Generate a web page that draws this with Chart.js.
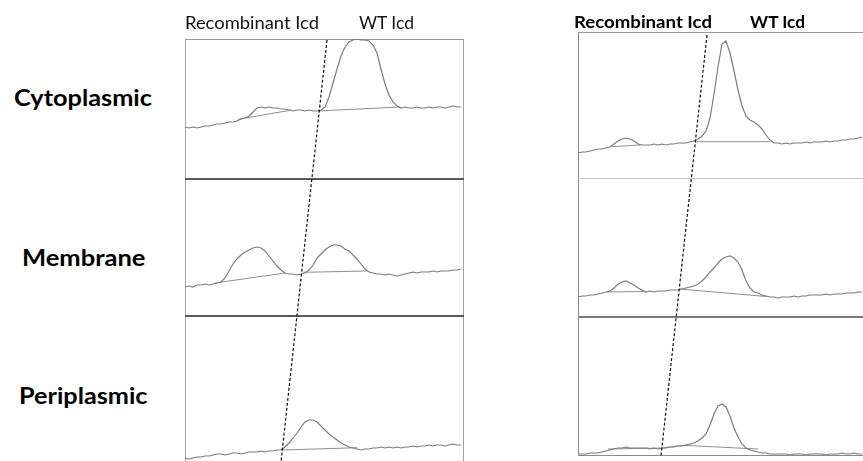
<!DOCTYPE html>
<html><head><meta charset="utf-8">
<script src="https://cdn.jsdelivr.net/npm/chart.js@4/dist/chart.umd.min.js"></script>
<style>
html,body{margin:0;padding:0;background:#fff;width:863px;height:461px;overflow:hidden;position:relative;font-family:Lato,"Noto Sans",sans-serif;}
.lbl{position:absolute;white-space:nowrap;line-height:1;transform-origin:0 0;color:#111;}
.b{font-weight:bold;color:#000;}
.ln{position:absolute;}
canvas{position:absolute;}
</style></head><body>
<div id="root"></div>
<script>
// ---- data (lane densitometry scans, sampled every SAMPLE_STEP px along the lane) ----
const SAMPLE_STEP = 4;
const rowNames = ["Cytoplasmic", "Membrane", "Periplasmic"];
const headerNames = ["Recombinant Icd", "WT Icd"];

const cytoLeft = [52,51,52,51,52,53,53,54,55,55, 56,57,57,58,60,61,63,67,71,72, 71,72,71,71,70,70,69,68,69,69,
  68,69,68,68,69,72,82,96,110,123, 132,137,139,140,139,139,138,134,126,110, 95,84,77,73,71,72,71,71,72,71,
  71,72,71,72,72,71,72,73,72,72];
const membLeft = [29,30,29,31,31,32,31,32,33,34, 38,45,52,57,61,64,66,68,69,68, 65,60,55,50,46,43,42,42,41,42,
  43,46,51,58,62,66,69,71,71,70, 67,65,61,57,52,47,44,43,42,42, 41,42,41,40,41,42,43,44,43,44,
  44,44,45,44,45,45,45,46,46,47];
const periLeft = [4,3,4,5,5,6,6,7,8,8, 7,8,9,9,8,9,10,10,10,11, 10,11,11,12,12,15,19,24,29,35,
  40,42,42,40,36,32,28,25,22,19, 17,15,14,13,12,13,13,14,14,15, 14,15,14,15,14,15,15,16,15,16,
  16,17,16,17,17,16,17,18,17,17];

const cytoRight = [25,26,26,27,28,29,29,30,31,34, 37,39,40,39,37,34,33,33,33,34, 33,34,33,34,34,35,35,35,36,37,
  39,42,47,60,84,111,134,137,125,107, 88,72,62,58,56,53,49,43,38,35, 35,34,35,34,35,35,35,36,35,36,
  36,36,37,36,37,37,38,38,39,39,40,41];
const membRight = [20,21,21,22,22,23,24,25,26,29, 33,35,36,34,32,29,27,25,26,25, 26,26,26,27,27,27,28,29,30,31,
  33,36,40,45,49,54,58,60,61,59, 55,47,36,29,25,24,22,21,20,20, 19,20,20,20,21,20,21,21,22,22,
  22,22,23,22,23,23,23,24,24,24,25,25];
const periRight = [2,2,2,3,3,3,4,5,6,7, 8,8,9,8,8,8,8,8,7,8, 7,8,8,9,9,10,10,11,12,13,
  15,18,22,31,42,50,52,49,40,28, 19,12,8,6,5,4,3,3,2,2, 2,2,2,1,2,2,2,1,2,2,
  2,2,1,2,2,2,3,2,2,3,2,2];

// peak baselines drawn by the densitometry software: [position, level] pairs per segment
const cytoLeftBase  = [[[53,59.7],[107,69]], [[133,68],[215,72]]];
const membLeftBase  = [[[30,33],[100,43]], [[118,43.7],[182,45]]];
const periLeftBase  = [[[98,12],[172,14.3]]];
const cytoRightBase = [[[32,31.3],[62,33]], [[117,36.3],[192,36.3]]];
const membRightBase = [[[29,25],[67,25.5]], [[102,28],[188,20.5]]];
const periRightBase = [[[30,7],[84,8]], [[84,8],[105,10.7],[180,7]]];

// dashed lane-alignment guide (position, level) in whole-panel units
const leftGuide  = [[142,422],[96,0]];
const rightGuide = [[129,421],[83,0]];

// ---- layout ----
const panels = [
  { left:185, width:278, rows:[[39,179],[179,316],[316,462]], top:39, bottom:462,
    series:[cytoLeft, membLeft, periLeft], bases:[cytoLeftBase, membLeftBase, periLeftBase], guide:leftGuide },
  { left:578, width:285, rows:[[32,178],[178,317],[317,456]], top:32, bottom:456,
    series:[cytoRight, membRight, periRight], bases:[cytoRightBase, membRightBase, periRightBase], guide:rightGuide }
];

const root = document.getElementById('root');
function addLine(l,t,w,h,c){ const d=document.createElement('div'); d.className='ln';
  Object.assign(d.style,{left:l+'px',top:t+'px',width:w+'px',height:h+'px',background:c}); root.appendChild(d); }
function addCanvas(l,t,w,h){ const c=document.createElement('canvas'); c.width=w; c.height=h;
  Object.assign(c.style,{left:l+'px',top:t+'px',width:w+'px',height:h+'px'}); root.appendChild(c); return c; }

function chartOn(canvas, w, h, datasets){
  return new Chart(canvas, {
    type:'line',
    data:{ datasets },
    options:{
      responsive:false, animation:false, events:[], devicePixelRatio:1,
      layout:{ padding:0 },
      plugins:{ legend:{display:false}, tooltip:{enabled:false}, title:{display:false} },
      elements:{ point:{ radius:0 }, line:{ tension:0 } },
      scales:{
        x:{ type:'linear', display:false, min:0, max:w },
        y:{ type:'linear', display:false, min:0, max:h }
      }
    }
  });
}

// frames
// left panel
addLine(185,39,1,423,'#a8a8a8'); addLine(463,39,1,423,'#a0a0a0'); addLine(185,39,279,1,'#9a9a9a');
addLine(185,178,279,2,'#5a5a5a'); addLine(185,315,279,2,'#5a5a5a');
// right panel
addLine(578,32,1,424,'#8a8a8a'); addLine(578,32,285,1,'#9a9a9a');
addLine(578,178,285,1,'#c4c4c4'); addLine(578,316,285,2,'#7a7a7a'); addLine(578,455,285,1,'#8a8a8a');

panels.forEach(p => {
  p.rows.forEach((r, k) => {
    const h = r[1]-r[0];
    const vals = p.series[k];
    const ds = [{
      data: vals.map((v,i)=>({x:i*SAMPLE_STEP, y:v})),
      borderColor:'#7c7c7c', borderWidth:1.2, clip:false
    }];
    p.bases[k].forEach(seg => ds.push({
      data: seg.map(q=>({x:q[0], y:q[1]})),
      borderColor:'#8e8e8e', borderWidth:1, clip:false
    }));
    chartOn(addCanvas(p.left, r[0], p.width, h), p.width, h, ds);
  });
  const H = p.bottom - p.top;
  chartOn(addCanvas(p.left, p.top, p.width, H), p.width, H, [{
    data: p.guide.map(q=>({x:q[0], y:q[1]})),
    borderColor:'#111', borderWidth:1.2, borderDash:[3,2], clip:false
  }]);
});

// text
function addText(txt, left, baseline, size, bold, targetW){
  const d=document.createElement('div'); d.className='lbl'+(bold?' b':''); d.textContent=txt;
  d.style.fontSize=size+'px'; d.style.left=left+'px'; d.style.top=(baseline-0.887*size)+'px';
  root.appendChild(d);
  const w=d.getBoundingClientRect().width; if(w>0) d.style.transform='scaleX('+(targetW/w)+')';
}
addText(headerNames[0], 185, 29.3, 17.5, false, 134);
addText(headerNames[1], 358.5, 29.3, 17.5, false, 55);
addText(headerNames[0], 573.5, 28.5, 17, true, 138);
addText(headerNames[1], 750, 28.5, 17, true, 55);
addText(rowNames[0], 13.5, 106.7, 22.5, true, 138);
addText(rowNames[1], 21.5, 266.7, 22.5, true, 123.5);
addText(rowNames[2], 18.5, 405, 22.5, true, 128.5);
</script>
</body></html>
